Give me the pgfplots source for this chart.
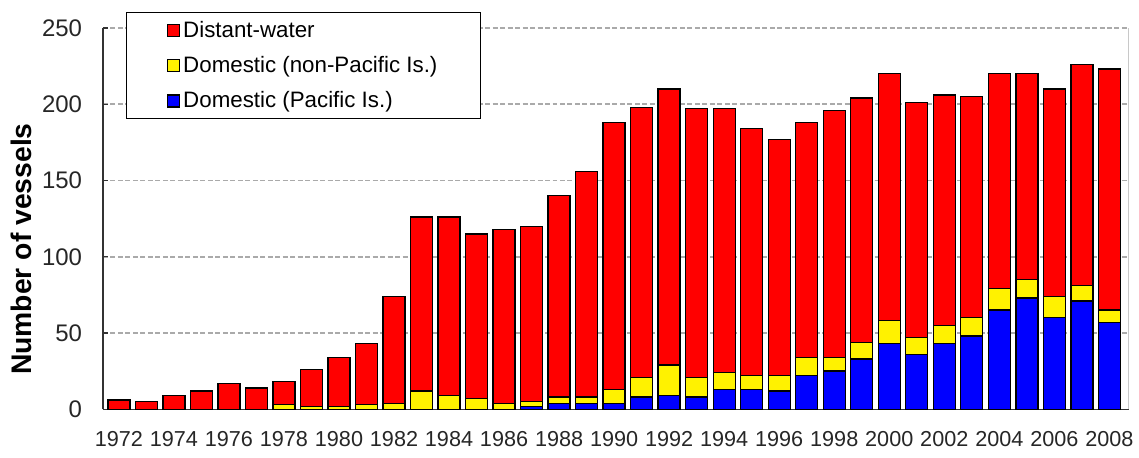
\documentclass[border=0pt]{standalone}
\usepackage{pgfplots}
\usepackage{pgfplotstable}
\pgfplotsset{compat=1.18}
\usepackage{fontspec}
\setmainfont{Liberation Sans}
\definecolor{gridgray}{RGB}{170,170,170}

% year, domestic (Pacific Is.), domestic (non-Pacific Is.), distant-water
\pgfplotstableread{
year blue yellow red
1972 0 0 6
1973 0 0 5
1974 0 0 9
1975 0 0 12
1976 0 0 17
1977 0 0 14
1978 0 3 15
1979 0 2 24
1980 0 2 32
1981 0 3 40
1982 0 4 70
1983 0 12 114
1984 0 9 117
1985 0 7 108
1986 0 4 114
1987 2 3 115
1988 4 4 132
1989 4 4 148
1990 4 9 175
1991 8 13 177
1992 9 20 181
1993 8 13 176
1994 13 11 173
1995 13 9 162
1996 12 10 155
1997 22 12 154
1998 25 9 162
1999 33 11 160
2000 43 15 162
2001 36 11 154
2002 43 12 151
2003 48 12 145
2004 65 14 141
2005 73 12 135
2006 60 14 136
2007 71 10 145
2008 57 8 158
}\vessels

\begin{document}
\begin{tikzpicture}
\begin{axis}[
  name=ax,
  scale only axis, width=616pt, height=229pt,
  ybar stacked, bar width=0.8,
  xmin=1971.42, xmax=2008.7,
  ymin=0, ymax=250,
  ytick={0,50,...,250},
  xtick={1972,1974,...,2008},
  axis x line*=bottom, axis y line*=left,
  axis line style={black!80, line width=0.9pt},
  x tick style={draw=none},
  y tick style={black!80, line width=0.8pt},
  tick align=inside, major tick length=3pt,
  ymajorgrids,
  grid style={gridgray, line width=0.9pt, dash pattern=on 3pt off 1.5pt},
  /pgf/number format/assume math mode=true,
  /pgf/number format/1000 sep={},
  xticklabel style={font=\fontsize{13}{15}\selectfont, text=black!85, yshift=-10pt},
  yticklabel style={font=\fontsize{14.4}{16}\selectfont, text=black!85, xshift=-9pt},
  ylabel={Number of vessels},
  ylabel style={font=\bfseries\fontsize{17}{19}\selectfont, at={(ticklabel cs:0.42)}, yshift=-1pt},
  legend image code/.code={\draw[#1, draw=black, line width=0.8pt] (0pt,-3.6pt) rectangle (7.2pt,3.6pt);},
  reverse legend,
  legend cell align=left,
  legend style={at={(rel axis cs:0.0224,1.042)}, anchor=north west,
    draw=black, line width=0.9pt, fill=white,
    inner xsep=24pt, inner ysep=3pt, row sep=6pt,
    font=\fontsize{13.4}{15}\selectfont},
]
\addplot[fill=blue, draw=black, line width=0.8pt] table[x=year, y=blue] {\vessels};
\addplot[fill=yellow, draw=black, line width=0.8pt] table[x=year, y=yellow] {\vessels};
\addplot[fill=red, draw=black, line width=0.8pt] table[x=year, y=red] {\vessels};
\legend{Domestic (Pacific Is.), Domestic (non-Pacific Is.), Distant-water}
\draw[gridgray, line width=0.9pt] (rel axis cs:1,0) -- (rel axis cs:1,1);
\end{axis}
\path ([xshift=-61.8pt, yshift=-28.8pt]ax.south west) rectangle ([xshift=5.4pt, yshift=16.8pt]ax.north east);
\end{tikzpicture}
\end{document}
